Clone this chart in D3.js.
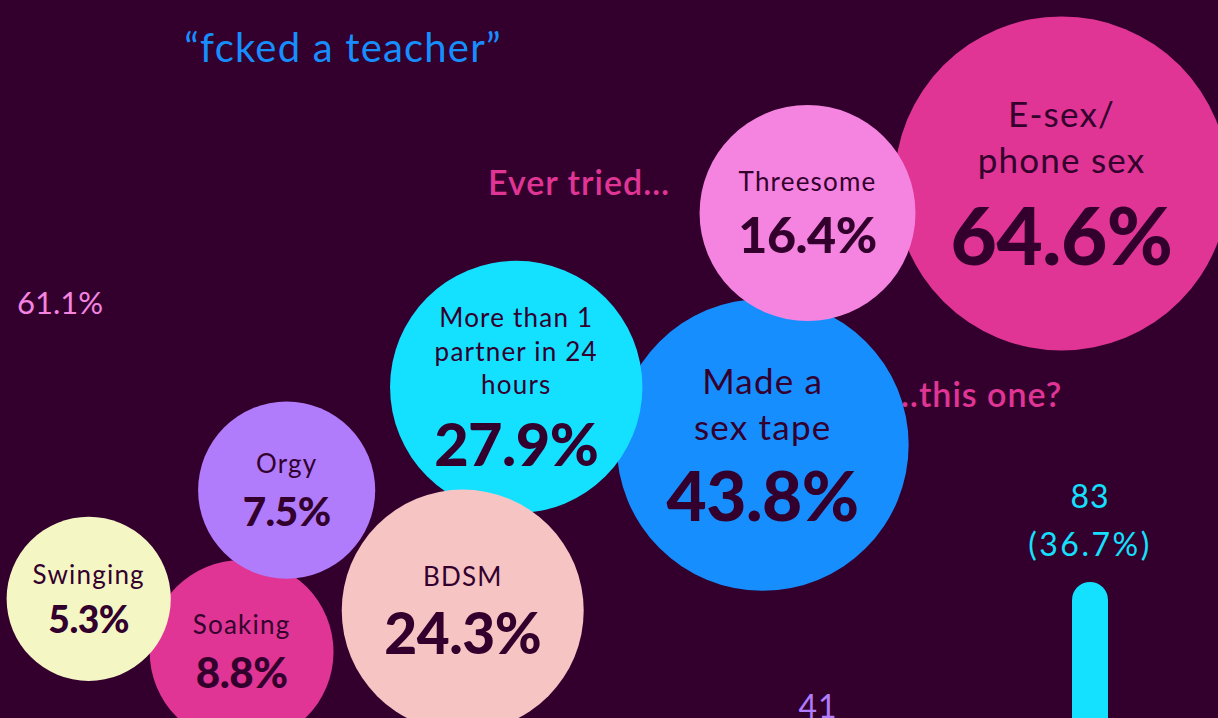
<!DOCTYPE html>
<html>
<head>
<meta charset="utf-8">
<script src="https://cdn.jsdelivr.net/npm/d3@7"></script>
<style>
  html, body { margin: 0; padding: 0; background: #33002e; }
  svg { display: block; }
  text { font-family: Lato, "Noto Sans", sans-serif; }
</style>
</head>
<body>
<svg id="chart"></svg>
<script>
// Bubble data (chain order, left to right)
const bubbleLabels = [
  ["Swinging"],
  ["Soaking"],
  ["Orgy"],
  ["BDSM"],
  ["More than 1", "partner in 24", "hours"],
  ["Made a", "sex tape"],
  ["Threesome"],
  ["E-sex/", "phone sex"],
];
const bubbleValues = [5.3, 8.8, 7.5, 24.3, 27.9, 43.8, 16.4, 64.6];
const bubbleColors = ["#f4f7c4", "#e03595", "#b07cfc", "#f7c4c4", "#14e0ff", "#168efe", "#f584e0", "#e03595"];

// Bar data (partly scrolled into view)
const barCategories = ["B", "C"];
const barValues = [41, 83];
const barTotal = 226;
const barColors = ["#b07cfc", "#14e0ff"];

const width = 1218;
const height = 718;
const bg = "#33002e";
const dark = "#33002e";

const svg = d3.select("#chart").attr("width", width).attr("height", height);
svg.append("rect").attr("width", width).attr("height", height).attr("fill", bg);

// Scales
const vmax = d3.max(bubbleValues);
const r = d3.scaleSqrt().domain([0, vmax]).range([48, 167]);
const valueFont = d3.scaleSqrt().domain([0, vmax]).range([20, 80]);

// Zigzag chain as a starting layout: each bubble touches the previous one
const stepDown = (12 * Math.PI) / 180;
const stepUp = (-78 * Math.PI) / 180;
const squeeze = 0.92;
const nodes = [];
bubbleValues.forEach((v, i) => {
  const node = { i, label: bubbleLabels[i], value: v, color: bubbleColors[i], r: r(v), x: 0, y: 0 };
  if (i > 0) {
    const prev = nodes[i - 1];
    const dist = (prev.r + node.r) * squeeze;
    const a = i % 2 ? stepDown : stepUp;
    node.x = prev.x + dist * Math.cos(a);
    node.y = prev.y + dist * Math.sin(a);
  }
  nodes.push(node);
});
// centre the chain on the layout centre
const mx = d3.mean(nodes, (d) => d.x);
const my = d3.mean(nodes, (d) => d.y);
nodes.forEach((d) => {
  d.x += 529 - mx;
  d.y += 437 - my;
  d.tx = d.x;
});

// relax towards a sagging rising curve, bubbles may overlap a little
const along = d3.scaleLinear()
  .domain([nodes[0].tx, nodes[nodes.length - 1].tx])
  .range([0, 1]);
const curve = d3.scalePow().exponent(1.6).domain([0, 1]).range([600, 185]);

const sim = d3.forceSimulation(nodes)
  .force("x", d3.forceX((d) => d.tx).strength(0.3))
  .force("y", d3.forceY((d) => curve(along(d.tx))).strength(0.08))
  .force("collide", d3.forceCollide((d) => d.r * 0.93).iterations(3))
  .stop();
for (let k = 0; k < 300; k++) sim.tick();

// Background annotations
svg.append("text")
  .attr("x", 343).attr("y", 62)
  .attr("text-anchor", "middle")
  .attr("fill", "#168efe")
  .style("font-size", "40px")
  .style("letter-spacing", "1.2px")
  .text("\u201cfcked a teacher\u201d");

svg.append("text")
  .attr("x", 17).attr("y", 314)
  .attr("fill", "#f584e0")
  .style("font-size", "31px")
  .text("61.1%");

svg.append("text")
  .attr("x", 488).attr("y", 195)
  .attr("fill", "#e03595")
  .style("font-size", "34px")
  .style("font-weight", "600")
  .style("letter-spacing", "1px")
  .text("Ever tried\u2026");

svg.append("text")
  .attr("x", 892).attr("y", 407)
  .attr("fill", "#e03595")
  .style("font-size", "34px")
  .style("font-weight", "600")
  .style("letter-spacing", "1px")
  .text("\u2026this one?");

// Bars
const bx = d3.scalePoint().domain(barCategories).range([818, 1090]);
const by = d3.scaleLinear().domain([0, 83]).range([997, 582]);
const barW = 36;

const bars = svg.append("g");
barValues.forEach((v, i) => {
  const x = bx(barCategories[i]);
  bars.append("rect")
    .attr("x", x - barW / 2)
    .attr("y", by(v))
    .attr("width", barW)
    .attr("height", by(0) - by(v) + barW)
    .attr("rx", barW / 2)
    .attr("fill", barColors[i]);
  bars.append("text")
    .attr("x", x).attr("y", by(v) - 74)
    .attr("text-anchor", "middle")
    .attr("fill", barColors[i])
    .style("font-size", "32px")
    .style("letter-spacing", "1px")
    .text(v);
  bars.append("text")
    .attr("x", x).attr("y", by(v) - 26)
    .attr("text-anchor", "middle")
    .attr("fill", barColors[i])
    .style("font-size", "32px")
    .style("letter-spacing", "2.5px")
    .text(`(${d3.format(".1f")((v / barTotal) * 100)}%)`);
});

// Bubbles, largest drawn first
const g = svg.append("g")
  .selectAll("g")
  .data(nodes.slice().sort((a, b) => b.value - a.value))
  .join("g")
  .attr("transform", (d) => `translate(${d.x},${d.y})`);

g.append("circle")
  .attr("r", (d) => d.r)
  .attr("fill", (d) => d.color);

g.each(function (d) {
  const el = d3.select(this);
  const labelSize = d.value > 40 ? 35 : 26;
  const valueSize = valueFont(d.value);
  const lineH = labelSize * 1.3;
  const cap = labelSize * 0.72;
  const gap = valueSize + 12;
  const n = d.label.length;
  const top = -(cap + (n - 1) * lineH + gap) / 2;
  d.label.forEach((line, k) => {
    el.append("text")
      .attr("y", top + cap + k * lineH)
      .attr("text-anchor", "middle")
      .attr("fill", dark)
      .style("font-size", `${labelSize}px`)
      .style("letter-spacing", "1.2px")
      .text(line);
  });
  el.append("text")
    .attr("y", top + cap + (n - 1) * lineH + gap)
    .attr("text-anchor", "middle")
    .attr("fill", dark)
    .style("font-size", `${valueSize}px`)
    .style("font-weight", "900")
    .style("letter-spacing", "-0.5px")
    .text(`${d.value}%`);
});
</script>
</body>
</html>
